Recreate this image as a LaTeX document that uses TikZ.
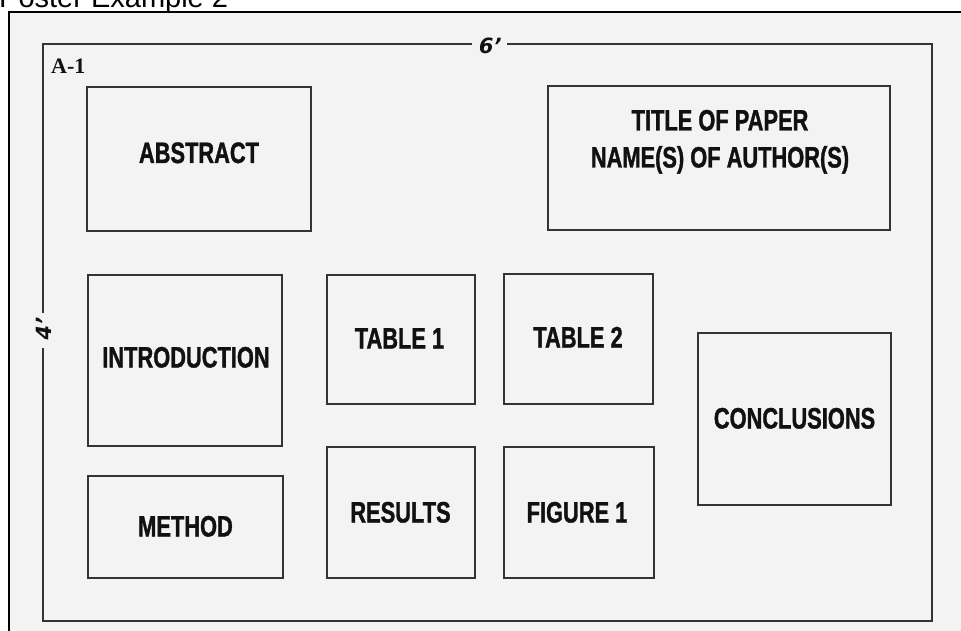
\documentclass[tikz,border=0pt]{standalone}
\usepackage{fontspec}
\setmainfont{Liberation Sans}
\newfontfamily\boxfont{Liberation Sans Bold}[FakeStretch=0.74,FakeBold=1.2]
\newfontfamily\serifbold{Liberation Serif Bold}
\newfontfamily\dimfont{DejaVu Sans Bold}[FakeSlant=0.18]
\definecolor{paper}{HTML}{F3F3F3}
\definecolor{ink}{HTML}{333333}
\definecolor{txt}{HTML}{111111}
\begin{document}
\begin{tikzpicture}[x=1pt,y=-1pt,
  lbl/.style={font=\boxfont\fontsize{29.5}{37}\selectfont, text=txt, align=center,
              inner sep=0pt, text height=21pt, text depth=0pt},
  panel/.style={draw=ink, line width=2.2pt, inner sep=0pt},
  frame/.style={draw=ink, line width=2.2pt},
  dim/.style={font=\dimfont\fontsize{21}{21}\selectfont, text=txt, inner sep=0pt}]
\useasboundingbox (0,0) rectangle (961,631);
\fill[white] (0,0) rectangle (961,631);
\node[anchor=base west, inner sep=0pt, font=\fontsize{29}{29}\selectfont] (caption) at (-1,7.5) {Poster Example 2};
\fill[paper] (9,12) rectangle (961,631);
\draw[line width=1.6pt, black] (9,631) -- (9,12) -- (961,12);
% outer poster frame with dimensions
\node[dim] (six) at (489,46) {6’};
\node[dim, rotate=90] (four) at (44,330) {4’};
\draw[frame] (472,44) -- (43,44) -- (43,313);
\draw[frame] (43,348) -- (43,621) -- (932,621) -- (932,44) -- (507,44);
\node[anchor=base west, inner sep=0pt, text=txt, font=\serifbold\fontsize{22}{22}\selectfont] (aone) at (51,74) {A-1};
% panels
\node[panel, minimum width=224pt, minimum height=144pt] (abstract) at (199,159) {};
\node[panel, minimum width=342pt, minimum height=144pt] (title) at (719,158) {};
\node[panel, minimum width=194pt, minimum height=171pt] (intro) at (185,360.5) {};
\node[panel, minimum width=148pt, minimum height=129pt] (tabone) at (401,339.5) {};
\node[panel, minimum width=149pt, minimum height=130pt] (tabtwo) at (578.5,339) {};
\node[panel, minimum width=193pt, minimum height=172pt] (concl) at (794.5,419) {};
\node[panel, minimum width=195pt, minimum height=102pt] (method) at (185.5,527) {};
\node[panel, minimum width=148pt, minimum height=131pt] (results) at (401,512.5) {};
\node[panel, minimum width=150pt, minimum height=131pt] (figone) at (579,512.5) {};
% labels
\node[lbl] (abstractlbl) at (199,152.5) {ABSTRACT};
\node[lbl] (titlelbl) at (720,157) {TITLE OF PAPER\\NAME(S) OF AUTHOR(S)};
\node[lbl] (introlbl) at (186,357) {INTRODUCTION};
\node[lbl] (tabonelbl) at (399.5,338) {TABLE 1};
\node[lbl] (tabtwolbl) at (578,337) {TABLE 2};
\node[lbl] (concllbl) at (794.5,418) {CONCLUSIONS};
\node[lbl] (methodlbl) at (185.5,526) {METHOD};
\node[lbl] (resultslbl) at (400.5,512) {RESULTS};
\node[lbl] (figonelbl) at (577,512) {FIGURE 1};
\end{tikzpicture}
\end{document}
